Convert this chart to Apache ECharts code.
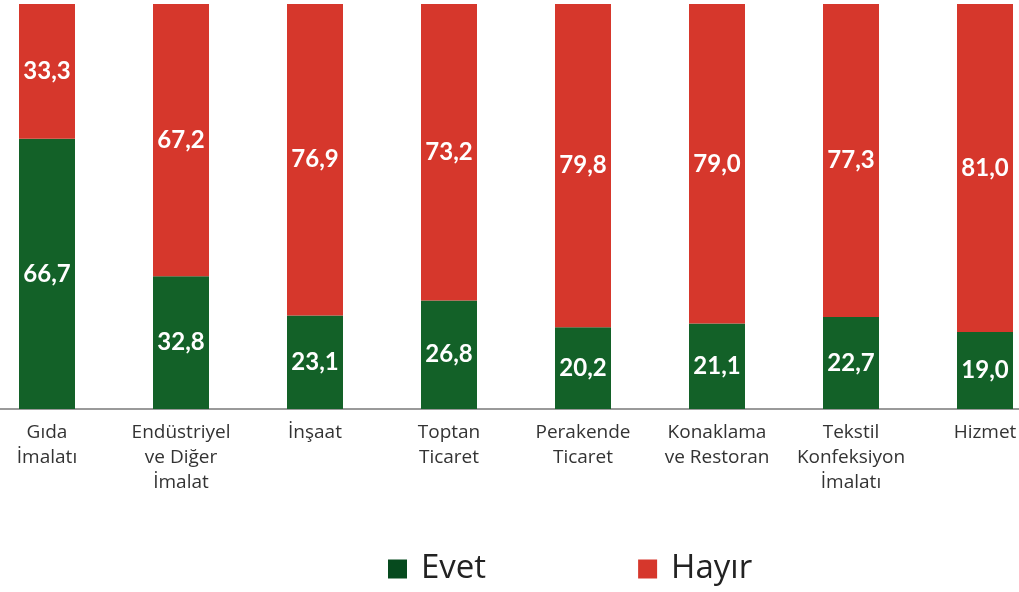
<!DOCTYPE html>
<html><head><meta charset="utf-8">
<script src="https://cdn.jsdelivr.net/npm/echarts@6/dist/echarts.min.js"></script>
<style>html,body{margin:0;padding:0;background:#fff;overflow:hidden}#c{position:absolute;left:-20px;top:0;width:1072px;height:592px}</style>
</head><body><div id="c"></div>
<script>
const categories = ['Gıda\nİmalatı', 'Endüstriyel\nve Diğer\nİmalat', 'İnşaat', 'Toptan\nTicaret', 'Perakende\nTicaret', 'Konaklama\nve Restoran', 'Tekstil\nKonfeksiyon\nİmalatı', 'Hizmet'];
const evet = [66.7, 32.8, 23.1, 26.8, 20.2, 21.1, 22.7, 19.0];
const hayir = [33.3, 67.2, 76.9, 73.2, 79.8, 79.0, 77.3, 81.0];
const seriesNames = ['Evet', 'Hayır'];

const labelFont = 'Lato, Roboto, sans-serif';
const textFont = '"Open Sans", "Noto Sans", sans-serif';
const fmt = p => p.value.toFixed(1).replace('.', ',');
const valLabel = {show: true, position: 'inside', color: '#fff', fontFamily: labelFont, fontWeight: 'bold', fontSize: 24, formatter: fmt};

const chart = echarts.init(document.getElementById('c'), null, {renderer: 'canvas'});
chart.setOption({
  animation: false,
  grid: {left: 0, right: 0, top: 4, bottom: 183, containLabel: false},
  legend: {
    top: 544, left: 403, itemGap: 152, itemWidth: 19, itemHeight: 19,
    icon: 'rect',
    textStyle: {fontFamily: textFont, fontSize: 33, lineHeight: 40, color: '#222', padding: [0, 0, 0, 9]},
    data: [{name: seriesNames[0], itemStyle: {color: '#064a1e'}}, {name: seriesNames[1], itemStyle: {color: '#d6372c'}}]
  },
  xAxis: {
    type: 'category', data: categories,
    axisLine: {lineStyle: {color: '#9a9a9a', width: 2}},
    axisTick: {show: false},
    axisLabel: {fontFamily: textFont, fontSize: 19, color: '#333', lineHeight: 25, margin: 11, interval: 0}
  },
  yAxis: {type: 'value', min: 0, max: 100, show: false, splitLine: {show: false}},
  series: [
    {name: seriesNames[0], type: 'bar', stack: 's', data: evet, barWidth: 56, itemStyle: {color: '#136128'}, label: valLabel},
    {name: seriesNames[1], type: 'bar', stack: 's', data: hayir, barWidth: 56, itemStyle: {color: '#d6372c'}, label: valLabel}
  ]
});
</script></body></html>
